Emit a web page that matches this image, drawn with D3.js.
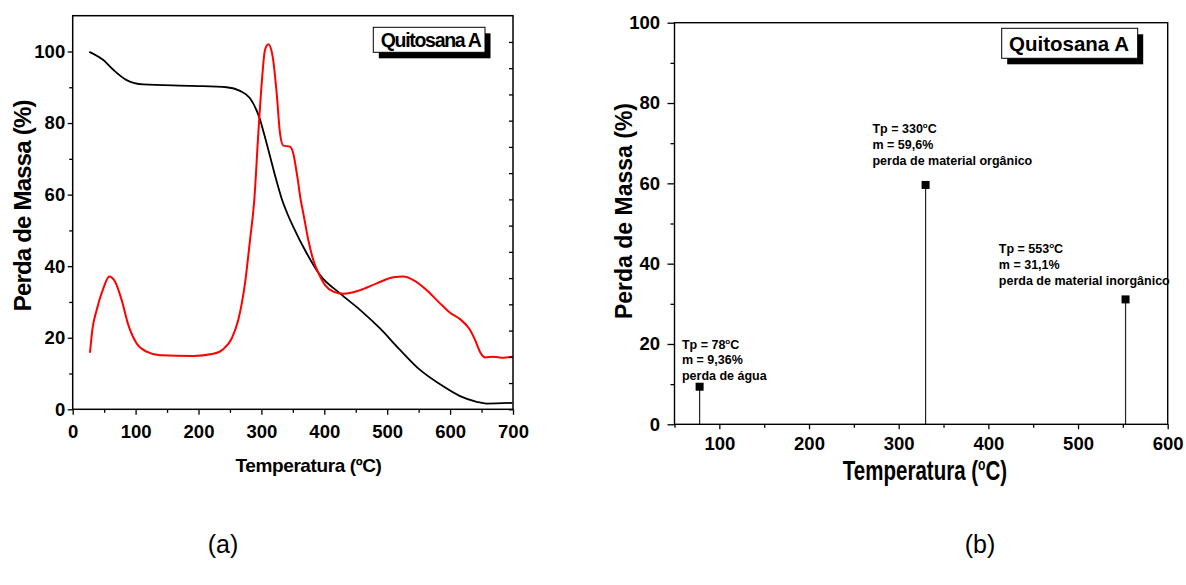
<!DOCTYPE html>
<html>
<head>
<meta charset="utf-8">
<script src="https://cdnjs.cloudflare.com/ajax/libs/d3/7.8.5/d3.min.js"></script>
<style>
  html, body { margin: 0; padding: 0; background: #fff; }
  svg text { font-family: "Liberation Sans", Arial, sans-serif; }
</style>
</head>
<body>
<svg id="fig" width="1186" height="585"></svg>
<script>
/* ── panel (a): TG curve (black) and DTG curve (red) ── */
const tgTemp = [26.4, 48.7, 64.5, 85.8, 112.2, 191.7, 244.8, 266, 281.9, 297.8, 305, 314, 323, 332,
                341, 350.7, 372, 393.2, 425, 456.8, 488.6, 520.4, 552.2, 584, 615.8, 642.3, 658.2, 699];
const tgMass = [99.9, 97.6, 94.9, 92.0, 90.8, 90.4, 90.0, 89.0, 86.9, 81.0, 76.5, 70.5, 64.5, 59.0,
                54.8, 51.0, 43.6, 37.5, 32.4, 27.8, 22.6, 16.6, 11.0, 7.0, 3.7, 2.1, 1.6, 1.8];

const dtgTemp = [27.5, 31.2, 38.2, 48.7, 58.2, 67.2, 77.9, 88.4, 101.7, 117.6, 138.8, 191.7,
                 223.5, 239.4, 252.8, 263.3, 273.9, 281.9, 288.7, 295.1, 300.5, 305.7, 311, 318,
                 324.3, 329.6, 334.8, 345.5, 350.7, 357.1, 362.5, 366.6, 374.6, 382.5, 390.5,
                 401.2, 414.4, 430.3, 456.8, 483.3, 509.8, 525.7, 541.6, 562.9, 584, 599.9,
                 615.8, 631.6, 639.6, 648.6, 655.5, 668.8, 684.7, 699];
const dtgVal  = [15.8, 22.2, 27.8, 33.8, 37.1, 35.7, 30.5, 23.6, 18.4, 16.1, 15.1, 14.9,
                 15.5, 16.8, 19.8, 25.0, 35.2, 47.3, 58.5, 77.1, 91.1, 100.4, 102.0, 98.5,
                 88.3, 77.1, 73.7, 73.4, 71.5, 65.0, 58.5, 54.8, 47.3, 41.7, 38.2,
                 34.7, 32.9, 32.3, 33.3, 35.2, 36.9, 37.1, 36.1, 33.3, 29.6, 27.0,
                 25.2, 22.2, 19.4, 15.7, 14.5, 14.7, 14.4, 14.7];

const xTicksA = [0, 100, 200, 300, 400, 500, 600, 700];
const yTicksA = [0, 20, 40, 60, 80, 100];

/* ── panel (b): peak temperatures and mass losses ── */
const peakTemp = [78, 330, 553];
const peakMass = [9.36, 59.6, 31.1];
const peakNotes = [
  ["Tp = 78°C",  "m = 9,36%", "perda de água"],
  ["Tp = 330°C", "m = 59,6%", "perda de material orgânico"],
  ["Tp = 553°C", "m = 31,1%", "perda de material inorgânico"]
];
const noteAnchorT = [58.3, 270.8, 411.7];   // left edge of each note, °C
const noteAnchorM = [18.85, 72.5, 42.6];    // baseline of first line, %

const xTicksB = [100, 200, 300, 400, 500, 600];
const yTicksB = [0, 20, 40, 60, 80, 100];

const svg = d3.select("#fig");
svg.append("rect").attr("width", 1186).attr("height", 585).attr("fill", "#fff");

function styleAxis(g, size) {
  g.select(".domain").remove();
  g.selectAll(".tick line").attr("stroke", "#000").attr("stroke-width", 1.3);
  g.selectAll("text").attr("fill", "#000").attr("font-size", size + "px").attr("font-weight", "bold");
}

function legend(g, x, y, w, h, tx, ty, size, ls) {
  g.append("rect").attr("x", x + 5.5).attr("y", y + 6).attr("width", w).attr("height", h).attr("fill", "#000");
  g.append("rect").attr("x", x).attr("y", y).attr("width", w).attr("height", h)
    .attr("fill", "#fff").attr("stroke", "#000").attr("stroke-width", 1);
  g.append("text").attr("x", tx).attr("y", ty).attr("font-size", size + "px")
    .attr("font-weight", "bold").attr("letter-spacing", ls).text("Quitosana A");
}

/* ─────────── PANEL (a) ─────────── */
{
  const L = 72.7, R = 513, T = 15.7, B = 409.3;
  const x = d3.scaleLinear().domain([0, 700]).range([L, R]);
  const y = d3.scaleLinear().domain([0, 110]).range([B, T]);
  const y2 = d3.scaleLinear().domain([0, 15]).range([B, T]);
  const g = svg.append("g");

  const line = d3.line().curve(d3.curveMonotoneX);
  g.append("path")
    .attr("d", line(tgTemp.map((t, i) => [x(t), y(tgMass[i])])))
    .attr("fill", "none").attr("stroke", "#000").attr("stroke-width", 1.8);
  g.append("path")
    .attr("d", line(dtgTemp.map((t, i) => [x(t), y(dtgVal[i])])))
    .attr("fill", "none").attr("stroke", "#ff0000").attr("stroke-width", 2);

  // minor ticks
  g.append("g").attr("transform", `translate(0,${B})`)
    .call(d3.axisBottom(x).tickValues(d3.range(50, 700, 100)).tickSize(3.5).tickFormat(""))
    .call(a => styleAxis(a, 18));
  g.append("g").attr("transform", `translate(${L},0)`)
    .call(d3.axisLeft(y).tickValues(d3.range(10, 110, 20)).tickSize(3.5).tickFormat(""))
    .call(a => styleAxis(a, 18));
  // right-hand DTG axis, inward ticks, no labels
  g.append("g").attr("transform", `translate(${R},0)`)
    .call(d3.axisRight(y2).tickValues(d3.range(0, 15, 1)).tickSize(-4).tickFormat(""))
    .call(a => styleAxis(a, 18));

  g.append("g").attr("transform", `translate(0,${B})`)
    .call(d3.axisBottom(x).tickValues(xTicksA).tickSize(5.5).tickPadding(10))
    .call(a => styleAxis(a, 18.5));
  g.append("g").attr("transform", `translate(${L},0)`)
    .call(d3.axisLeft(y).tickValues(yTicksA).tickSize(5).tickPadding(2.5))
    .call(a => styleAxis(a, 18.5));

  g.append("rect").attr("x", L).attr("y", T).attr("width", R - L).attr("height", B - T)
    .attr("fill", "none").attr("stroke", "#000").attr("stroke-width", 1.5);

  legend(g, 373.3, 27.3, 111.7, 25, 380.7, 46.7, 19.5, -1.3);

  g.append("text").attr("x", 308.5).attr("y", 471.7).attr("text-anchor", "middle")
    .attr("font-size", "19px").attr("font-weight", "bold").attr("letter-spacing", -0.4)
    .text("Temperatura (ºC)");
  g.append("text").attr("transform", "translate(31,205.8) rotate(-90)").attr("text-anchor", "middle")
    .attr("font-size", "24px").attr("font-weight", "bold").attr("letter-spacing", -0.8)
    .text("Perda de Massa (%)");
}

/* ─────────── PANEL (b) ─────────── */
{
  const L = 674.5, R = 1167.7, T = 22.7, B = 424.3;
  const x = d3.scaleLinear().domain([50, 600]).range([L, R]);
  const y = d3.scaleLinear().domain([0, 100]).range([B, T]);
  const g = svg.append("g");

  g.append("g").attr("transform", `translate(0,${B})`)
    .call(d3.axisBottom(x).tickValues(d3.range(50, 600, 100)).tickSize(3.5).tickFormat(""))
    .call(a => styleAxis(a, 18));
  g.append("g").attr("transform", `translate(${L},0)`)
    .call(d3.axisLeft(y).tickValues(d3.range(10, 100, 20)).tickSize(4).tickFormat(""))
    .call(a => styleAxis(a, 18));
  g.append("g").attr("transform", `translate(0,${B})`)
    .call(d3.axisBottom(x).tickValues(xTicksB).tickSize(5).tickPadding(8))
    .call(a => styleAxis(a, 18.5));
  g.append("g").attr("transform", `translate(${L},0)`)
    .call(d3.axisLeft(y).tickValues(yTicksB).tickSize(7).tickPadding(7.5))
    .call(a => styleAxis(a, 18.5));

  const pts = peakTemp.map((t, i) => ({ t, m: peakMass[i] }));
  g.selectAll(".stem").data(pts).join("line").attr("class", "stem")
    .attr("x1", d => x(d.t)).attr("x2", d => x(d.t))
    .attr("y1", y(0)).attr("y2", d => y(d.m))
    .attr("stroke", "#222").attr("stroke-width", 1.2);
  g.selectAll(".pt").data(pts).join("rect").attr("class", "pt")
    .attr("x", d => x(d.t) - 4).attr("y", d => y(d.m) - 4)
    .attr("width", 8).attr("height", 8).attr("fill", "#000");

  peakNotes.forEach((lines, i) => {
    const t = g.append("text").attr("x", x(noteAnchorT[i])).attr("y", y(noteAnchorM[i]))
      .attr("font-size", "12.5px").attr("font-weight", "bold");
    lines.forEach((s, j) => {
      const parts = s.split("°");
      t.append("tspan").attr("x", x(noteAnchorT[i])).attr("dy", j ? 15.7 : 0).text(parts[0]);
      if (parts.length > 1) {
        t.append("tspan").attr("font-size", "8px").attr("dy", -5).text("o");
        t.append("tspan").attr("dy", 5).text(parts[1]);
      }
    });
  });

  g.append("rect").attr("x", L).attr("y", T).attr("width", R - L).attr("height", B - T)
    .attr("fill", "none").attr("stroke", "#000").attr("stroke-width", 1.4);

  legend(g, 1001.7, 28.3, 136, 30, 1009, 50.7, 20.5, 0);

  const xt = g.append("text").attr("transform", "translate(925,479.5) scale(0.76,1)")
    .attr("text-anchor", "middle").attr("font-size", "27px").attr("font-weight", "bold");
  xt.append("tspan").text("Temperatura (");
  xt.append("tspan").attr("font-size", "16px").attr("dy", -10).text("o");
  xt.append("tspan").attr("dy", 10).text("C)");

  g.append("text").attr("transform", "translate(632.4,211) rotate(-90)").attr("text-anchor", "middle")
    .attr("font-size", "23px").attr("font-weight", "bold").text("Perda de Massa (%)");
}

/* captions */
svg.append("text").attr("x", 223).attr("y", 553).attr("text-anchor", "middle")
  .attr("font-size", "25px").text("(a)");
svg.append("text").attr("x", 980).attr("y", 553).attr("text-anchor", "middle")
  .attr("font-size", "25px").text("(b)");
</script>
</body>
</html>
